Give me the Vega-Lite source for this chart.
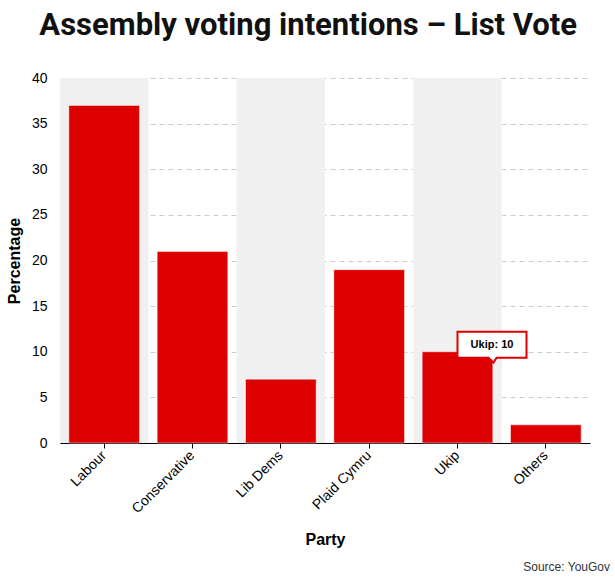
{
  "$schema": "https://vega.github.io/schema/vega-lite/v6.json",
  "background": "white",
  "padding": {"left": 6, "top": 10, "right": 5, "bottom": 5},
  "title": {
    "text": "Assembly voting intentions – List Vote",
    "font": "Roboto",
    "fontSize": 31,
    "fontWeight": "bold",
    "color": "#111111",
    "anchor": "middle",
    "offset": 29
  },
  "datasets": {
    "votes": [
      {"party": "Labour", "value": 37},
      {"party": "Conservative", "value": 21},
      {"party": "Lib Dems", "value": 7},
      {"party": "Plaid Cymru", "value": 19},
      {"party": "Ukip", "value": 10},
      {"party": "Others", "value": 2}
    ]
  },
  "vconcat": [
    {
      "width": 530,
      "height": 365,
      "title": {
        "text": "Source: YouGov",
        "orient": "bottom",
        "anchor": "end",
        "font": "Liberation Sans",
        "fontSize": 12,
        "fontWeight": "normal",
        "color": "#333333",
        "offset": 14,
        "dx": 20
      },
      "data": {"name": "votes"},
      "encoding": {
        "x": {
          "field": "party",
          "type": "nominal",
          "sort": ["Labour", "Conservative", "Lib Dems", "Plaid Cymru", "Ukip", "Others"],
          "title": "Party",
          "scale": {"paddingInner": 0, "paddingOuter": 0},
          "axis": {
            "labelAngle": -45,
            "labelAlign": "right",
            "labelBaseline": "middle",
            "labelPadding": 5,
            "labelFontSize": 14,
            "labelColor": "#000000",
            "domainColor": "#000000",
            "tickColor": "#000000",
            "tickSize": 5,
            "grid": false,
            "titlePadding": 16
          }
        }
      },
      "layer": [
        {
          "transform": [
            {"filter": "datum.party == 'Labour' || datum.party == 'Lib Dems' || datum.party == 'Ukip'"}
          ],
          "mark": {"type": "bar", "color": "#f0f0f0", "width": {"band": 1}},
          "encoding": {
            "y": {
              "datum": 40,
              "type": "quantitative",
              "title": "Percentage",
              "scale": {"domain": [0, 40]},
              "axis": {
                "values": [0, 5, 10, 15, 20, 25, 30, 35, 40],
                "grid": true,
                "domain": false,
                "ticks": false,
                "labelPadding": 13,
                "labelFontSize": 14,
                "labelColor": "#000000",
                "gridColor": "#cccccc",
                "gridDash": [5, 4],
                "titlePadding": 9
              }
            }
          }
        },
        {
          "mark": {
            "type": "bar",
            "color": "#dd0000",
            "width": {"band": 0.8},
            "stroke": "#ffffff",
            "strokeOpacity": 0.5,
            "strokeWidth": 1
          },
          "encoding": {
            "y": {
              "field": "value",
              "type": "quantitative",
              "title": "Percentage",
              "scale": {"domain": [0, 40]},
              "axis": {
                "values": [0, 5, 10, 15, 20, 25, 30, 35, 40],
                "grid": true,
                "domain": false,
                "ticks": false,
                "labelPadding": 13,
                "labelFontSize": 14,
                "labelColor": "#000000",
                "gridColor": "#cccccc",
                "gridDash": [5, 4],
                "titlePadding": 9
              }
            }
          }
        },
        {
          "transform": [
            {"filter": "datum.party == 'Ukip'"}
          ],
          "mark": {
            "type": "point",
            "shape": "M0,-20L69,-20L69,6L39,6L36,11L31,6L0,6Z",
            "size": 4,
            "filled": true,
            "fill": "#ffffff",
            "fillOpacity": 1,
            "opacity": 1,
            "stroke": "#dd0000",
            "strokeWidth": 2
          },
          "encoding": {
            "y": {"field": "value", "type": "quantitative", "title": "Percentage"}
          }
        },
        {
          "transform": [
            {"filter": "datum.party == 'Ukip'"},
            {"calculate": "datum.party + ': ' + datum.value", "as": "label"}
          ],
          "mark": {
            "type": "text",
            "font": "Liberation Sans",
            "fontSize": 11,
            "fontWeight": "bold",
            "color": "#000000",
            "align": "center",
            "baseline": "middle",
            "dx": 34.5,
            "dy": -7
          },
          "encoding": {
            "y": {"field": "value", "type": "quantitative", "title": "Percentage"},
            "text": {"field": "label"}
          }
        }
      ]
    }
  ],
  "config": {
    "font": "Liberation Sans",
    "concat": {"spacing": 0},
    "view": {"stroke": null},
    "axis": {
      "titleFontSize": 16,
      "titleFontWeight": "bold",
      "titleColor": "#000000"
    }
  }
}
